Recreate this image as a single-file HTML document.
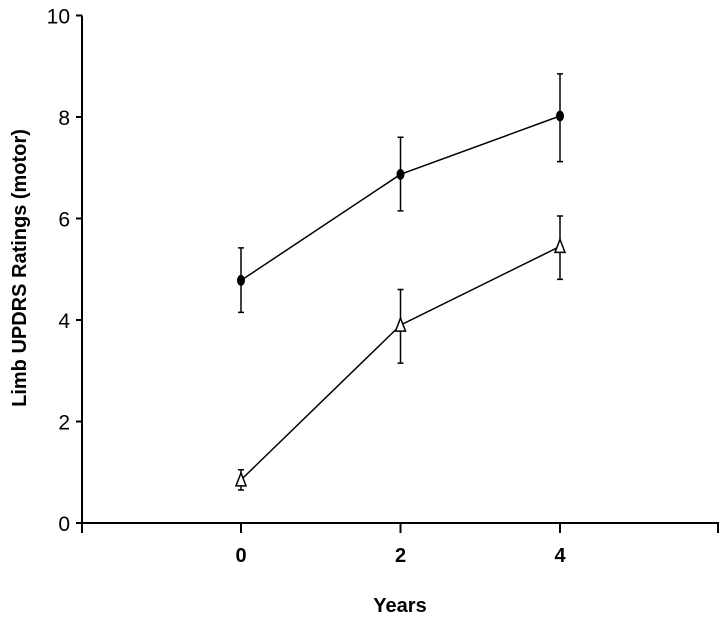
<!DOCTYPE html>
<html><head><meta charset="utf-8"><style>
body{margin:0;background:#fff}
svg text{font-family:"Liberation Sans",Arial,sans-serif;fill:#000}
</style></head><body>
<svg width="720" height="615" viewBox="0 0 720 615">
<g id="axes"></g><g id="marks"></g>
<text x="26" y="268" font-size="20" font-weight="bold" text-anchor="middle" transform="rotate(-90 26 268)">Limb UPDRS Ratings (motor)</text>
<text x="400" y="612" font-size="20" font-weight="bold" text-anchor="middle">Years</text>
</svg>
<script>
const years=[0,2,4];
const filledMean=[4.78,6.87,8.02];
const filledLo=[4.15,6.15,7.12];
const filledHi=[5.42,7.6,8.85];
const openMean=[0.85,3.9,5.45];
const openLo=[0.65,3.15,4.8];
const openHi=[1.05,4.6,6.05];
const yTicks=[0,2,4,6,8,10];
const xTicks=[0,2,4];
const NS="http://www.w3.org/2000/svg";
const X=v=>241+(v/2)*159.5;
const Y=v=>523-v*50.75;
function mk(p,t,a){const e=document.createElementNS(NS,t);for(const k in a)e.setAttribute(k,a[k]);p.appendChild(e);return e;}
const ax=document.getElementById('axes'),mg=document.getElementById('marks');
const yl=mk(ax,'line',{x1:82,y1:Y(10),x2:82,y2:Y(0)+5,stroke:'#000','stroke-width':2});


const xl=mk(ax,'line',{x1:77,y1:Y(0),x2:719,y2:Y(0),stroke:'#000','stroke-width':2});


yTicks.forEach(v=>{
 mk(ax,'line',{x1:76,y1:Y(v),x2:82,y2:Y(v),stroke:'#000','stroke-width':2});
 const t=mk(ax,'text',{x:70,y:Y(v)+8,'font-size':21,'text-anchor':'end'});t.textContent=v;
 
 
});
[-1,0,2,4,5].forEach(v=>{
 const xx=v===-1?82:v===5?718:X(v);
 mk(ax,'line',{x1:xx,y1:Y(0),x2:xx,y2:Y(0)+10,stroke:'#000','stroke-width':2});
});
xTicks.forEach(v=>{
 const t=mk(ax,'text',{x:X(v),y:Y(0)+39,'font-size':20,'font-weight':'bold','text-anchor':'middle'});t.textContent=v;
 
 
});
function series(mean,lo,hi,filled,name){
 const pts=years.map((y,i)=>X(y)+','+Y(mean[i])).join(' ');
 const pl=mk(mg,'polyline',{points:pts,fill:'none',stroke:'#000','stroke-width':1.5});
 
 
 years.forEach((y,i)=>{
  const x=X(y);
  const eb=mk(mg,'path',{d:`M${x},${Y(lo[i])}V${Y(hi[i])}M${x-3},${Y(lo[i])}h6M${x-3},${Y(hi[i])}h6`,stroke:'#000','stroke-width':1.5,fill:'none'});
  
  
  let m;
  if(filled){m=mk(mg,'ellipse',{cx:x,cy:Y(mean[i]),rx:4,ry:5.5,fill:'#000'});}
  else{const c=Y(mean[i]);m=mk(mg,'polygon',{points:`${x},${c-7} ${x-5},${c+6} ${x+5},${c+6}`,fill:'#fff',stroke:'#000','stroke-width':1.5});}
  
  
 });
}
series(filledMean,filledLo,filledHi,true,'filled-series');
series(openMean,openLo,openHi,false,'open-series');
</script>
</body></html>
